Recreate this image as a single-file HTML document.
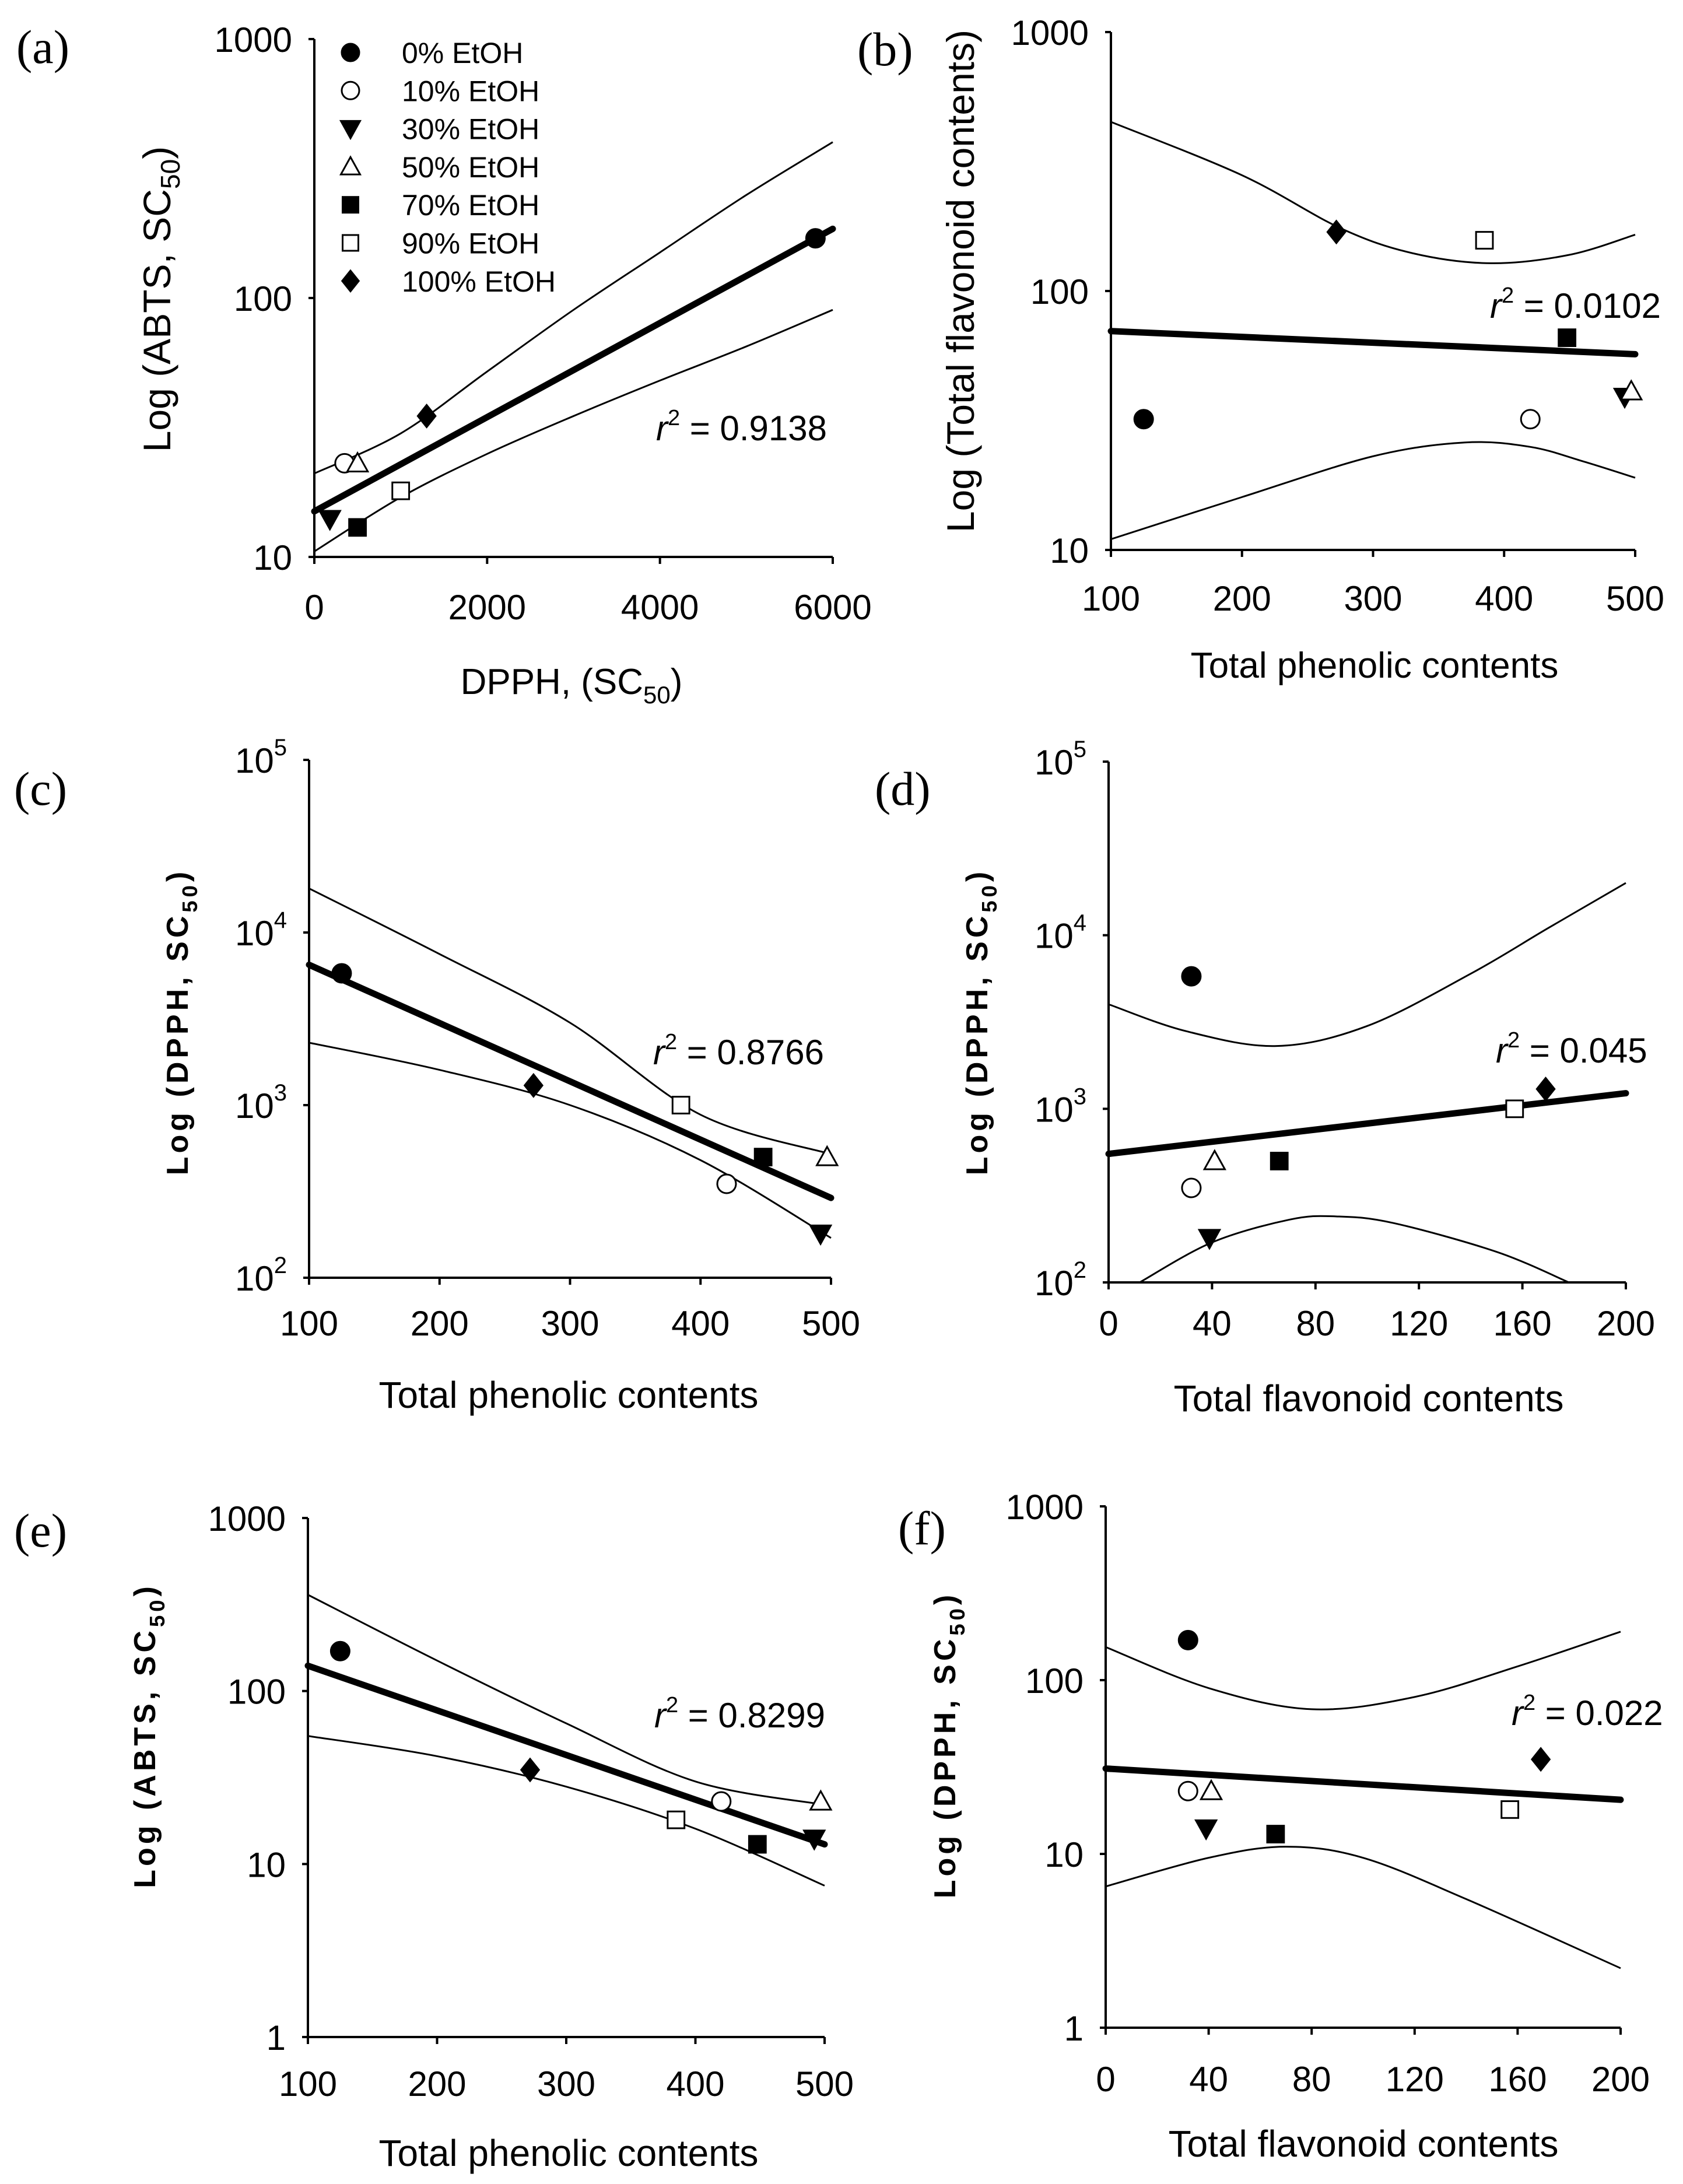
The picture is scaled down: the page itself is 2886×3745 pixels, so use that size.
<!DOCTYPE html>
<html><head><meta charset="utf-8"><style>
html,body{margin:0;padding:0;background:#fff;}
svg{display:block;}
text{font-family:"Liberation Sans",Arial,sans-serif;fill:#000;}
.ser{font-family:"Liberation Serif",serif;}
</style></head><body>
<svg id="fig" xmlns="http://www.w3.org/2000/svg" width="2886" height="3745" viewBox="0 0 2886 3745"></svg>
<script>
// shared sample data (7 extracts)
const series = ["0% EtOH","10% EtOH","30% EtOH","50% EtOH","70% EtOH","90% EtOH","100% EtOH"];
const markers = ["fcircle","ocircle","ftri","otri","fsq","osq","fdia"];
const tpc = [125, 420, 492, 497, 448, 385, 272];
const tfc = [32, 32, 39, 41, 66, 157, 169];
const abts = [170, 23, 14, 23, 13, 18, 35];
const dpph = [5800, 350, 180, 500, 500, 1000, 1300];

// panel (a) fit & bands
const aFitX = [0, 6000];   const aFitY = [15, 185];
const aBandX = [0, 1000, 2000, 3000, 4000, 5000, 6000];
const aUpper = [21, 30, 52, 90, 150, 250, 400];
const aLower = [10.5, 17, 25, 35, 48, 65, 90];
// panel (b)
const bFitX = [100, 500]; const bFitY = [70, 57];
const bBandX = [100, 200, 275, 330, 390, 450, 500];
const bUpper = [450, 280, 175, 140, 128, 138, 165];
const bBandXL = [100, 200, 300, 370, 420, 460, 500];
const bLower = [11, 16, 23, 26, 25, 22, 19];
// panel (c)
const cFitX = [100, 500]; const cFitY = [6500, 290];
const cBandX = [100, 200, 300, 400, 500];
const cUpper = [18000, 7500, 3000, 880, 520];
const cLower = [2300, 1600, 1000, 480, 170];
// panel (d)
const dFitX = [0, 200]; const dFitY = [550, 1230];
const dBandX = [0, 30, 65, 100, 140, 170, 200];
const dUpper = [4000, 2800, 2300, 3000, 6000, 11000, 20000];
const dBandXL = [12, 40, 70, 88, 110, 150, 178];
const dLower = [100, 170, 230, 240, 220, 150, 100];
// panel (e)
const eFitX = [100, 500]; const eFitY = [140, 13];
const eBandX = [100, 200, 300, 400, 500];
const eUpper = [360, 150, 65, 30, 22];
const eLower = [55, 42, 28, 16, 7.5];
// panel (f)
const fFitX = [0, 200]; const fFitY = [31, 20.5];
const fBandX = [0, 40, 80, 120, 160, 200];
const fUpper = [155, 90, 68, 80, 120, 190];
const fBandXL = [0, 40, 70, 100, 140, 200];
const fLower = [6.5, 9.5, 11, 9.5, 5.5, 2.2];

// tick labels
const xTicksA = [0, 2000, 4000, 6000];
const xTicksTPC = [100, 200, 300, 400, 500];
const xTicksTFC = [0, 40, 80, 120, 160, 200];
const yTicks3 = [10, 100, 1000];
const yTicksExp = [2, 3, 4, 5];
const yTicks4 = [1, 10, 100, 1000];
const r2Labels = ["0.9138", "0.0102", "0.8766", "0.045", "0.8299", "0.022"];

const NS = "http://www.w3.org/2000/svg";
const svg = document.getElementById("fig");
function el(tag, attrs, parent) {
  const e = document.createElementNS(NS, tag);
  for (const k in attrs) e.setAttribute(k, attrs[k]);
  (parent || svg).appendChild(e);
  return e;
}
function smooth(pts) {
  let d = "M" + pts[0][0] + "," + pts[0][1];
  for (let i = 0; i < pts.length - 1; i++) {
    const p0 = pts[i - 1] || pts[i], p1 = pts[i], p2 = pts[i + 1], p3 = pts[i + 2] || p2;
    const c1 = [p1[0] + (p2[0] - p0[0]) / 6, p1[1] + (p2[1] - p0[1]) / 6];
    const c2 = [p2[0] - (p3[0] - p1[0]) / 6, p2[1] - (p3[1] - p1[1]) / 6];
    d += " C" + c1[0] + "," + c1[1] + " " + c2[0] + "," + c2[1] + " " + p2[0] + "," + p2[1];
  }
  return d;
}
function drawMarker(g, type, x, y, s) {
  let m;
  const fill = type[0] === "f" ? "#000" : "#fff";
  const shape = type.slice(1);
  if (shape === "circle") m = el("circle", {cx: x, cy: y, r: s * 0.5, fill: fill, stroke: "#000", "stroke-width": 3}, g);
  else if (shape === "sq") m = el("rect", {x: x - s * 0.45, y: y - s * 0.45, width: s * 0.9, height: s * 0.9, fill: fill, stroke: "#000", "stroke-width": 3}, g);
  else if (shape === "tri") {
    const h = s * 0.55;
    const pts = type === "ftri" ? [[x - h, y - h * 0.8], [x + h, y - h * 0.8], [x, y + h]] : [[x - h, y + h * 0.8], [x + h, y + h * 0.8], [x, y - h]];
    m = el("polygon", {points: pts.map(p => p.join(",")).join(" "), fill: fill, stroke: "#000", "stroke-width": 3}, g);
  } else {
    const h = s * 0.62;
    m = el("polygon", {points: [[x, y - h], [x + h * 0.8, y], [x, y + h], [x - h * 0.8, y]].map(p => p.join(",")).join(" "), fill: fill, stroke: "#000", "stroke-width": 2}, g);
  }
  return m;
}

function panel(cfg) {
  const g = el("g", {});
  
  
  const X = v => cfg.x0 + (v - cfg.xmin) / (cfg.xmax - cfg.xmin) * (cfg.x1 - cfg.x0);
  const Y = v => cfg.y1 - (Math.log10(v) - Math.log10(cfg.ymin)) / (Math.log10(cfg.ymax) - Math.log10(cfg.ymin)) * (cfg.y1 - cfg.y0);
  const clip = el("clipPath", {id: "clip" + cfg.id}, g);
  el("rect", {x: cfg.x0, y: cfg.y0 - 5, width: cfg.x1 - cfg.x0 + 30, height: cfg.y1 - cfg.y0 + 5}, clip);
  const ax = el("path", {d: "M" + cfg.x0 + "," + cfg.y0 + " V" + cfg.y1 + " H" + cfg.x1, fill: "none", stroke: "#000", "stroke-width": 4}, g);
  
  
  cfg.yt.forEach((v, i) => {
    const val = cfg.exp ? Math.pow(10, v) : v;
    const y = Y(val);
    el("line", {x1: cfg.x0 - 10, x2: cfg.x0, y1: y, y2: y, stroke: "#000", "stroke-width": 4}, g);
    const t = el("text", {x: cfg.x0 - 38, y: y + 22, "text-anchor": "end", "font-size": cfg.tfs}, g);
    
    
    if (cfg.exp) {
      t.textContent = "10";
      const s = el("tspan", {dy: -30, "font-size": 40}, t);
      s.textContent = v;
    } else t.textContent = v;
  });
  cfg.xt.forEach(v => {
    const x = X(v);
    el("line", {x1: x, x2: x, y1: cfg.y1, y2: cfg.y1 + 12, stroke: "#000", "stroke-width": 4}, g);
    const t = el("text", {x: x, y: cfg.xty, "text-anchor": "middle", "font-size": cfg.tfs}, g);
    
    
    t.textContent = v;
  });
  const cg = el("g", {"clip-path": "url(#clip" + cfg.id + ")"}, g);
  const up = el("path", {d: smooth(cfg.bx.map((v, i) => [X(v), Y(cfg.bu[i])])), fill: "none", stroke: "#000", "stroke-width": 3}, cg);
  
  
  const lo = el("path", {d: smooth(cfg.bxl.map((v, i) => [X(v), Y(cfg.bl[i])])), fill: "none", stroke: "#000", "stroke-width": 3}, cg);
  
  
  const fit = el("line", {x1: X(cfg.fx[0]), y1: Y(cfg.fy[0]), x2: X(cfg.fx[1]), y2: Y(cfg.fy[1]), stroke: "#000", "stroke-width": 11, "stroke-linecap": "round"}, g);
  
  
  cfg.px.forEach((v, i) => {
    const m = drawMarker(g, markers[i], X(v), Y(cfg.py[i]), 32);
    
    
  });
  const r = el("text", {x: cfg.r2x, y: cfg.r2y, "font-size": cfg.tfs}, g);
  
  
  const ri = el("tspan", {"font-style": "italic"}, r); ri.textContent = "r";
  const rs = el("tspan", {dy: -26, "font-size": 38}, r); rs.textContent = "2";
  const rv = el("tspan", {dy: 26}, r); rv.textContent = " = " + cfg.r2;
  const xt = el("text", {x: cfg.xtx, y: cfg.xtity, "text-anchor": "middle", "font-size": cfg.titfs}, g);
  
  
  xt.textContent = cfg.xtitle[0];
  if (cfg.xtitle[1]) { const s = el("tspan", {dy: 16, "font-size": 42}, xt); s.textContent = cfg.xtitle[1]; const s2 = el("tspan", {dy: -16}, xt); s2.textContent = ")"; }
  const yt = el("text", {x: 0, y: 0, "text-anchor": "middle", "font-size": cfg.ytfs, "font-weight": cfg.ybold ? "bold" : "normal", "letter-spacing": cfg.yls, transform: "translate(" + cfg.ytx + "," + cfg.yty + ") rotate(-90)"}, g);
  
  
  yt.textContent = cfg.ytitle[0];
  if (cfg.ytitle[1]) { const s = el("tspan", {dy: 16, "font-size": cfg.ytfs * 0.7}, yt); s.textContent = cfg.ytitle[1]; const s2 = el("tspan", {dy: -16}, yt); s2.textContent = ")"; }
  const pl = el("text", {x: cfg.plx, y: cfg.ply, "font-size": 82, "class": "ser"}, g);
  
  
  pl.textContent = "(" + cfg.id + ")";
  return g;
}

panel({id: "a", x0: 539, x1: 1428, y0: 67, y1: 955, xmin: 0, xmax: 6000, ymin: 10, ymax: 1000,
  yt: yTicks3, xt: xTicksA, tfs: 60, xty: 1062, px: dpph, py: abts, fx: aFitX, fy: aFitY,
  bx: aBandX, bu: aUpper, bxl: aBandX, bl: aLower, r2: r2Labels[0], r2x: 1125, r2y: 755,
  xtitle: ["DPPH, (SC", "50"], xtx: 980, xtity: 1190, titfs: 62,
  ytitle: ["Log (ABTS, SC", "50"], ytx: 292, yty: 513, ytfs: 66, ybold: false, yls: 0,
  plx: 28, ply: 108});
panel({id: "b", x0: 1905, x1: 2804, y0: 55, y1: 943, xmin: 100, xmax: 500, ymin: 10, ymax: 1000,
  yt: yTicks3, xt: xTicksTPC, tfs: 60, xty: 1047, px: tpc, py: tfc, fx: bFitX, fy: bFitY,
  bx: bBandX, bu: bUpper, bxl: bBandXL, bl: bLower, r2: r2Labels[1], r2x: 2555, r2y: 545,
  xtitle: ["Total phenolic contents"], xtx: 2357, xtity: 1162, titfs: 62,
  ytitle: ["Log (Total flavonoid contents)"], ytx: 1670, yty: 482, ytfs: 66, ybold: false, yls: 0,
  plx: 1470, ply: 112});
panel({id: "c", x0: 530, x1: 1425, y0: 1303, y1: 2191, xmin: 100, xmax: 500, ymin: 100, ymax: 100000, exp: true,
  yt: yTicksExp, xt: xTicksTPC, tfs: 60, xty: 2290, px: tpc, py: dpph, fx: cFitX, fy: cFitY,
  bx: cBandX, bu: cUpper, bxl: cBandX, bl: cLower, r2: r2Labels[2], r2x: 1120, r2y: 1825,
  xtitle: ["Total phenolic contents"], xtx: 975, xtity: 2414, titfs: 64,
  ytitle: ["Log (DPPH, SC", "50"], ytx: 322, yty: 1752, ytfs: 52, ybold: true, yls: 6,
  plx: 24, ply: 1380});
panel({id: "d", x0: 1901, x1: 2788, y0: 1306, y1: 2199, xmin: 0, xmax: 200, ymin: 100, ymax: 100000, exp: true,
  yt: yTicksExp, xt: xTicksTFC, tfs: 60, xty: 2290, px: tfc, py: dpph, fx: dFitX, fy: dFitY,
  bx: dBandX, bu: dUpper, bxl: dBandXL, bl: dLower, r2: r2Labels[3], r2x: 2565, r2y: 1822,
  xtitle: ["Total flavonoid contents"], xtx: 2347, xtity: 2420, titfs: 64,
  ytitle: ["Log (DPPH, SC", "50"], ytx: 1693, yty: 1752, ytfs: 52, ybold: true, yls: 6,
  plx: 1500, ply: 1380});
panel({id: "e", x0: 528, x1: 1414, y0: 2603, y1: 3493, xmin: 100, xmax: 500, ymin: 1, ymax: 1000,
  yt: yTicks4, xt: xTicksTPC, tfs: 60, xty: 3594, px: tpc, py: abts, fx: eFitX, fy: eFitY,
  bx: eBandX, bu: eUpper, bxl: eBandX, bl: eLower, r2: r2Labels[4], r2x: 1122, r2y: 2962,
  xtitle: ["Total phenolic contents"], xtx: 975, xtity: 3714, titfs: 64,
  ytitle: ["Log (ABTS, SC", "50"], ytx: 266, yty: 2976, ytfs: 52, ybold: true, yls: 6,
  plx: 24, ply: 2652});
panel({id: "f", x0: 1896, x1: 2779, y0: 2583, y1: 3477, xmin: 0, xmax: 200, ymin: 1, ymax: 1000,
  yt: yTicks4, xt: xTicksTFC, tfs: 60, xty: 3586, px: tfc, py: abts, fx: fFitX, fy: fFitY,
  bx: fBandX, bu: fUpper, bxl: fBandXL, bl: fLower, r2: r2Labels[5], r2x: 2592, r2y: 2958,
  xtitle: ["Total flavonoid contents"], xtx: 2338, xtity: 3698, titfs: 64,
  ytitle: ["Log (DPPH, SC", "50"], ytx: 1638, yty: 2992, ytfs: 52, ybold: true, yls: 6,
  plx: 1540, ply: 2648});

const lg = el("g", {});


series.forEach((s, i) => {
  const y = 90 + i * 65.3;
  const m = drawMarker(lg, markers[i], 601, y, 30);
  
  
  const t = el("text", {x: 689, y: y + 18, "font-size": 50}, lg);
  
  
  t.textContent = s;
});
</script>
</body></html>
